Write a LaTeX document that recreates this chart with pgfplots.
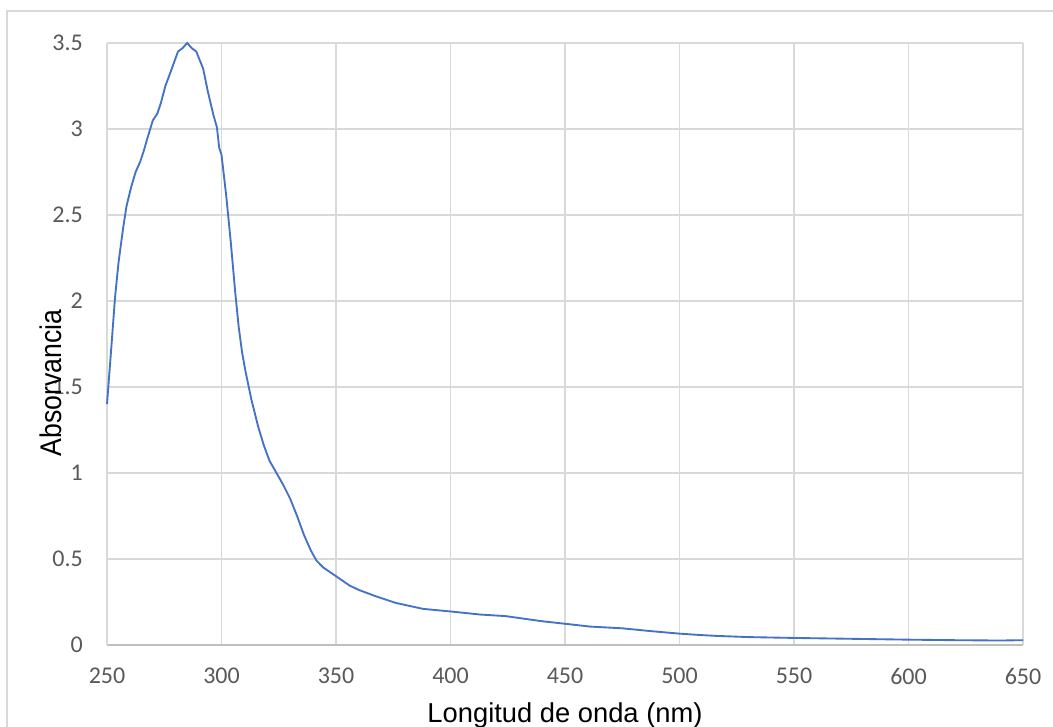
\documentclass[border=0pt]{standalone}
\usepackage{fontspec}
\setmainfont{Carlito}
\newfontfamily\arial{Liberation Sans}
\usepackage{pgfplots}
\pgfplotsset{compat=1.18}
\definecolor{xlblue}{HTML}{4472C4}
\definecolor{gridgray}{HTML}{D9D9D9}
\definecolor{axisgray}{HTML}{BFBFBF}
\definecolor{ticktext}{HTML}{595959}
\begin{document}
\begin{tikzpicture}[x=0.75pt,y=0.75pt]
\useasboundingbox (0,0) rectangle (1053,727);
\draw[gridgray, line width=1pt] (7,-10) -- (7,716) -- (1070,716);
\begin{axis}[
    at={(80.25pt,61.5pt)}, anchor=south west,
    scale only axis,
    width=687pt, height=451.5pt,
    xmin=250, xmax=650, ymin=0, ymax=3.5,
    xtick={250,300,...,650},
    ytick={0,0.5,...,3.5},
    yticklabels={0,0.5,1,1.5,2,2.5,3,3.5},
    major tick length=0pt,
    grid=major,
    grid style={gridgray, line width=1.1pt},
    axis x line*=bottom,
    axis y line*=left,
    x axis line style={axisgray, line width=1.1pt},
    y axis line style={gridgray, line width=1.1pt},
    /pgf/number format/assume math mode=true,
    tick label style={font=\fontsize{18}{20}\selectfont, text=ticktext, inner sep=0pt},
    xticklabel style={anchor=north, yshift=-17pt},
    yticklabel style={anchor=east, xshift=-18pt},
    clip=false,
]
\addplot[xlblue, line width=1.4pt] coordinates {
(250,1.40) (252,1.75) (253.5,2.02) (255,2.22) (257,2.42) (258.5,2.55)
(260.5,2.66) (262.5,2.75) (264.5,2.81) (266,2.87) (267.5,2.94) (270,3.05)
(272,3.09) (273.5,3.15) (275.5,3.25) (278,3.34) (281,3.45) (283,3.47)
(285,3.50) (287,3.47) (289,3.45) (292,3.35) (294,3.22) (296.5,3.08)
(298,3.01) (299,2.89) (300,2.85) (302,2.62) (304,2.35) (306,2.05)
(307.5,1.85) (309,1.70) (310.5,1.59) (313,1.43) (316,1.27) (318.5,1.16)
(321,1.07) (324,1.00) (327,0.93) (330,0.85) (333,0.75) (336,0.64)
(339,0.55) (341.5,0.49) (344.5,0.45) (350,0.40) (356,0.345) (360,0.32)
(367,0.285) (376,0.245) (388,0.21) (400,0.195) (413,0.177) (424,0.168)
(440,0.138) (451,0.122) (461,0.107) (475,0.097) (488,0.08) (500,0.066)
(509,0.058) (516,0.053) (530,0.046) (550,0.041) (580,0.035) (600,0.031)
(620,0.028) (640,0.026) (650,0.028)
};
\end{axis}
\node[font=\arial\fontsize{20}{24}\selectfont, rotate=90, inner sep=0pt] at (51,344) {\scalebox{1}[1.12]{Absorvancia}};
\node[font=\arial\fontsize{20.5}{24}\selectfont, anchor=base, inner sep=0pt] at (565,4) {Longitud de onda (nm)};
\end{tikzpicture}
\end{document}
